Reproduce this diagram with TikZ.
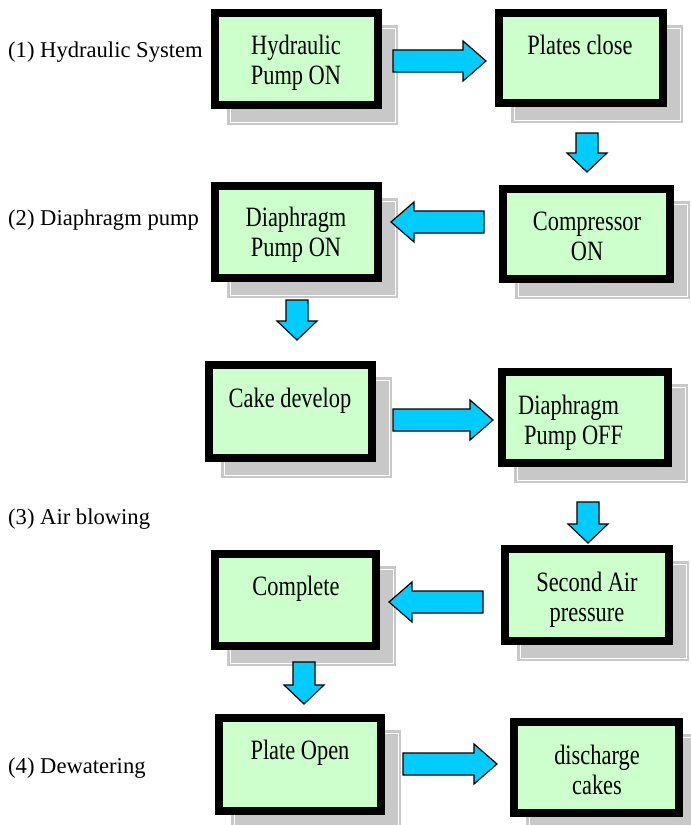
\documentclass[tikz,border=0pt]{standalone}
\usepackage{fontspec}
\setmainfont{Liberation Serif}
\newfontfamily\boxfont{Liberation Serif}[FakeStretch=0.8]
\usetikzlibrary{calc}
\definecolor{boxgreen}{RGB}{204,255,204}
\definecolor{arrowcyan}{RGB}{0,204,255}
\definecolor{shadowgray}{RGB}{200,200,200}
\tikzset{
  stepbox/.style={draw=black, line width=8pt, fill=boxgreen, inner sep=0pt},
  boxtext/.style={font=\boxfont\fontsize{28}{30}\selectfont, align=center, anchor=base, inner sep=0pt},
  sidelabel/.style={font=\fontsize{22.6}{26}\selectfont, anchor=base west, inner sep=0pt},
  blockarrow/.style={fill=arrowcyan, draw=black, line width=1.2pt, line join=miter},
}
% box with drop shadow: name, x1, y1, x2, y2 (outer edges)
\newcommand\shadowedbox[5]{%
  \fill[shadowgray] (#2+16,#3+16) rectangle (#4+16,#5+16);
  \draw[white, line width=0.8pt] (#2+19,#3+19) rectangle (#4+13,#5+13);
  \node[stepbox, minimum width={#4-#2-8}, minimum height={#5-#3-8}] (#1) at ({(#2+#4)/2},{(#3+#5)/2}) {};
}
% block arrows
\newcommand\harrowR[3]{% x tail, x tip, y centre
  \draw[blockarrow] (#1,#3-11) -- (#2-23,#3-11) -- (#2-23,#3-20) -- (#2,#3) -- (#2-23,#3+20) -- (#2-23,#3+11) -- (#1,#3+11) -- cycle;}
\newcommand\harrowL[3]{% x tip, x tail, y centre
  \draw[blockarrow] (#2,#3-11) -- (#1+23,#3-11) -- (#1+23,#3-20) -- (#1,#3) -- (#1+23,#3+20) -- (#1+23,#3+11) -- (#2,#3+11) -- cycle;}
\newcommand\varrowD[3]{% x centre, y tail, y tip
  \draw[blockarrow] (#1-11,#2) -- (#1+11,#2) -- (#1+11,#3-19) -- (#1+20,#3-19) -- (#1,#3) -- (#1-20,#3-19) -- (#1-11,#3-19) -- cycle;}
\begin{document}
\begin{tikzpicture}[x=1pt, y=-1pt]
  \useasboundingbox (0,0) rectangle (691,825);

  % boxes
  \shadowedbox{b1}{211}{9}{382}{109}
  \shadowedbox{b2}{495}{9}{667}{107}
  \shadowedbox{b3}{499}{185}{674}{283}
  \shadowedbox{b4}{211}{182}{382}{282}
  \shadowedbox{b5}{205}{361}{376}{462}
  \shadowedbox{b6}{498}{368}{672}{467}
  \shadowedbox{b7}{501}{545}{673}{645}
  \shadowedbox{b8}{211}{550}{380}{650}
  \shadowedbox{b9}{215}{714}{385}{815}
  \shadowedbox{b10}{510}{718}{683}{817}

  % box texts (base anchor = baseline of last line)
  \node[boxtext] (t1) at (296,84) {Hydraulic\\Pump ON};
  \node[boxtext] (t2) at (580,54) {Plates close};
  \node[boxtext] (t3) at (587,260) {Compressor\\ON};
  \node[boxtext] (t4) at (296,256) {Diaphragm\\Pump ON};
  \node[boxtext] (t5) at (290,407) {Cake develop};
  \node[boxtext, align=left, anchor=base west] (t6) at (518,444) {Diaphragm\\\hspace*{6pt}Pump OFF};
  \node[boxtext] (t7) at (587,621) {Second Air\\pressure};
  \node[boxtext] (t8) at (296,595) {Complete};
  \node[boxtext] (t9) at (300,759) {Plate Open};
  \node[boxtext] (t10) at (597,794) {discharge\\cakes};

  % side labels
  \node[sidelabel] (l1) at (8,57) {(1) Hydraulic System};
  \node[sidelabel] (l2) at (8,225) {(2) Diaphragm pump};
  \node[sidelabel] (l3) at (8,524) {(3) Air blowing};
  \node[sidelabel] (l4) at (8,773) {(4) Dewatering};

  % block arrows
  \harrowR{393}{486}{61}
  \varrowD{587}{133}{172}
  \harrowL{391}{484}{222}
  \varrowD{297}{300}{340}
  \harrowR{393}{493}{420}
  \varrowD{588}{502}{543}
  \harrowL{389}{483}{602}
  \varrowD{304}{662}{704}
  \harrowR{403}{497}{764}
\end{tikzpicture}
\end{document}
